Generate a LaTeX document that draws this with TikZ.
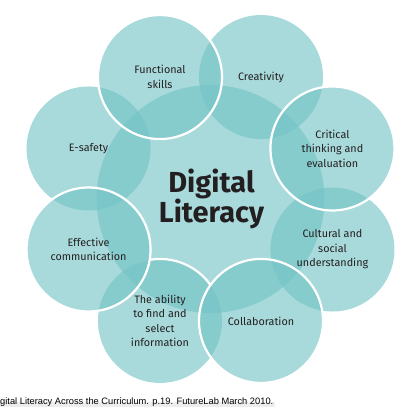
\documentclass[tikz,border=0pt]{standalone}
\usepackage{fontspec}
\setmainfont{Fira Sans}
\newfontfamily\capfont{Liberation Sans}
\usetikzlibrary{calc}
\definecolor{tealbase}{RGB}{115,195,197}
\definecolor{inkdark}{RGB}{35,31,32}
\begin{document}
\begin{tikzpicture}[x=1pt,y=1pt,
  bub/.style={circle, inner sep=0pt, minimum size=124pt, fill=tealbase,
    fill opacity=0.62, text opacity=1, text=inkdark, align=center,
    font=\fontsize{10.8}{14.5}\selectfont},
  rim/.style={draw=white, line width=2.2pt},
  bigtxt/.style={font=\fontsize{29}{30}\selectfont\bfseries, text=inkdark, anchor=base, inner sep=0pt},
  captxt/.style={anchor=base west, inner sep=0pt, font=\capfont\fontsize{9.3}{11}\selectfont}]
\useasboundingbox (0,0) rectangle (412,412);
\coordinate (ctr) at (210.5,213);
% central disc
\node[circle, minimum size=228pt, inner sep=0pt, fill=tealbase, fill opacity=0.62] (core) at (ctr) {};
% outer discs
\node[bub] (fs) at ($(ctr)+(112.5:132)$) {Functional\\skills};
\node[bub] (cr) at ($(ctr)+(67.5:132)$) {Creativity};
\node[bub] (ct) at ($(ctr)+(22.5:132)$) {Critical\\thinking and\\evaluation};
\node[bub] (cu) at ($(ctr)+(-22.5:132)$) {Cultural and\\social\\understanding};
\node[bub] (co) at ($(ctr)+(-67.5:132)$) {Collaboration};
\node[bub] (ab) at ($(ctr)+(-112.5:132)$) {The ability\\to find and\\select\\information};
\node[bub] (ec) at ($(ctr)+(-157.5:132)$) {Effective\\communication};
\node[bub] (es) at ($(ctr)+(157.5:132)$) {E-safety};
% white rims
\draw[rim] ($(ab.center)+(35.5:62)$) arc[start angle=35.5, end angle=99.6, radius=62];
\draw[rim] (fs.center) circle[radius=62];
\draw[rim] (ct.center) circle[radius=62];
\draw[rim] (co.center) circle[radius=62];
\draw[rim] (ec.center) circle[radius=62];
% title
\node[bigtxt] (dig) at (211.5,219) {Digital};
\node[bigtxt] (lit) at (211.5,189) {Literacy};
% caption with soft shadow band
\fill[black, opacity=0.07] (0,4.5) rectangle (275,9.5);
\node[captxt, text=black] (cap) at (0,8) {gital Literacy Across the Curriculum. p.19. FutureLab March 2010.};
\end{tikzpicture}
\end{document}
